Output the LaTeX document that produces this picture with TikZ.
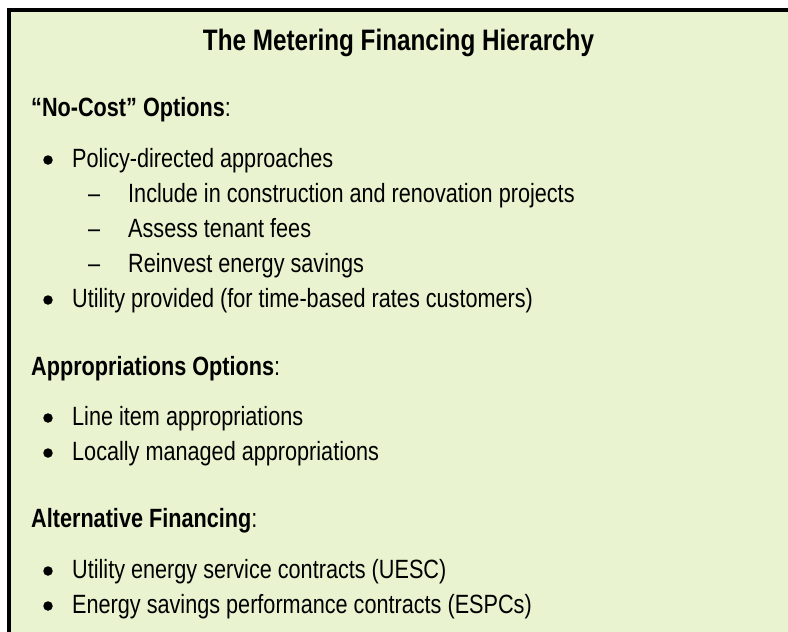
\documentclass[tikz,border=0pt]{standalone}
\usepackage{fontspec}
\setmainfont{Liberation Sans}[FakeStretch=0.82]
\definecolor{boxfill}{HTML}{E9F3CF}
\begin{document}
\begin{tikzpicture}[x=1pt,y=-1pt,
  body/.style={anchor=base west,inner sep=0pt,font=\fontsize{26.4}{30}\selectfont},
  head/.style={anchor=base west,inner sep=0pt,font=\fontsize{26.4}{30}\selectfont},
  titletext/.style={anchor=base,inner sep=0pt,font=\fontsize{29.6}{34}\selectfont\bfseries},
  dot/.style={circle,fill=black,inner sep=0pt,minimum size=9.5pt},
  dashmark/.style={anchor=base west,inner sep=0pt,font=\fontsize{26.4}{30}\selectfont}]
\useasboundingbox (0,0) rectangle (788,632);
\fill[boxfill] (9,10) rectangle (792,636);
\draw[line width=4pt] (9,640) -- (9,10) -- (792,10);

\node[titletext] (title) at (398.5,50) {The Metering Financing Hierarchy};

\node[head] (h1) at (31,116) {\textbf{“No-Cost” Options}:};
\node[dot] (b1) at (48,160) {};
\node[body] (t1) at (72,167) {Policy-directed approaches};
\node[dashmark] (d1) at (88,202) {–};
\node[body] (t2) at (128,202) {Include in construction and renovation projects};
\node[dashmark] (d2) at (88,237) {–};
\node[body] (t3) at (128,237) {Assess tenant fees};
\node[dashmark] (d3) at (88,272) {–};
\node[body] (t4) at (128,272) {Reinvest energy savings};
\node[dot] (b2) at (48,300) {};
\node[body] (t5) at (72,307) {Utility provided (for time-based rates customers)};

\node[head] (h2) at (31,375) {\textbf{Appropriations Options}:};
\node[dot] (b3) at (48,418) {};
\node[body] (t6) at (72,425) {Line item appropriations};
\node[dot] (b4) at (48,453) {};
\node[body] (t7) at (72,460) {Locally managed appropriations};

\node[head] (h3) at (31,527) {\textbf{Alternative Financing}:};
\node[dot] (b5) at (48,571) {};
\node[body] (t8) at (72,578) {Utility energy service contracts (UESC)};
\node[dot] (b6) at (48,606) {};
\node[body] (t9) at (72,613) {Energy savings performance contracts (ESPCs)};
\end{tikzpicture}
\end{document}
